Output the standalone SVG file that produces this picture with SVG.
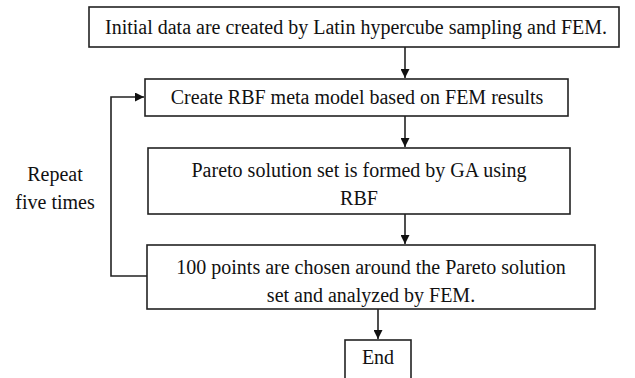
<svg xmlns="http://www.w3.org/2000/svg" width="635" height="378" viewBox="0 0 635 378">
  <style>
    .box { fill: #ffffff; stroke: #222222; stroke-width: 1.6; }
    .wire { fill: none; stroke: #222222; stroke-width: 1.6; }
    .lbl { font-family: 'Liberation Serif', serif; font-size: 20px; fill: #111111; text-anchor: middle; }
  </style>
  <defs>
    <marker id="arrow" viewBox="0 0 10 10" refX="10" refY="5" markerWidth="9" markerHeight="9" markerUnits="userSpaceOnUse" orient="auto">
      <path d="M0,0 L10,5 L0,10 z" fill="#111111"/>
    </marker>
  </defs>
  <rect width="635" height="378" fill="#ffffff"/>

  <!-- connectors -->
  <g id="connectors">
    <line class="wire" x1="405" y1="47" x2="405" y2="78" marker-end="url(#arrow)"/>
    <line class="wire" x1="405" y1="116" x2="405" y2="147" marker-end="url(#arrow)"/>
    <line class="wire" x1="405" y1="214" x2="405" y2="244" marker-end="url(#arrow)"/>
    <line class="wire" x1="378" y1="309" x2="378" y2="339" marker-end="url(#arrow)"/>
    <polyline class="wire" points="147,276 111,276 111,97 144,97" marker-end="url(#arrow)"/>
  </g>

  <g id="init">
    <rect class="box" x="89" y="7" width="530" height="40"/>
    <text class="lbl" x="356" y="34">Initial data are created by Latin hypercube sampling and FEM.</text>
  </g>

  <g id="rbf">
    <rect class="box" x="145" y="79" width="423" height="37"/>
    <text class="lbl" x="357" y="104">Create RBF meta model based on FEM results</text>
  </g>

  <g id="pareto">
    <rect class="box" x="148" y="148" width="422" height="66"/>
    <text class="lbl" x="359" y="177">Pareto solution set is formed by GA using</text>
    <text class="lbl" x="359" y="205">RBF</text>
  </g>

  <g id="points">
    <rect class="box" x="147" y="245" width="448" height="64"/>
    <text class="lbl" x="371" y="274">100 points are chosen around the Pareto solution</text>
    <text class="lbl" x="371" y="302">set and analyzed by FEM.</text>
  </g>

  <g id="end">
    <rect class="box" x="345" y="340" width="66" height="45"/>
    <text class="lbl" x="378" y="364">End</text>
  </g>

  <g id="repeat-note">
    <text class="lbl" x="55" y="181">Repeat</text>
    <text class="lbl" x="55" y="209">five times</text>
  </g>
</svg>
